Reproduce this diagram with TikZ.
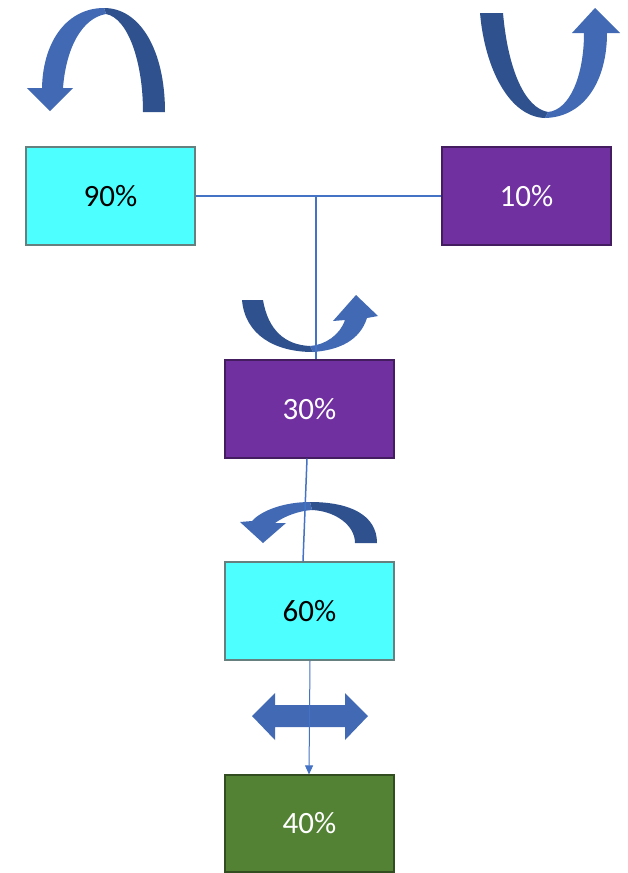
\documentclass[tikz,border=0pt]{standalone}
\usepackage{fontspec}
\setmainfont{Carlito}
\usetikzlibrary{arrows.meta}
\definecolor{cyanbox}{HTML}{4DFFFF}
\definecolor{purplebox}{HTML}{7030A0}
\definecolor{greenbox}{HTML}{548235}
\definecolor{linkblue}{HTML}{4472C4}
\definecolor{arrowlight}{HTML}{4169B4}
\definecolor{arrowdark}{HTML}{2F528F}
\tikzset{
  box/.style={rectangle, minimum width=169pt, minimum height=98pt, inner sep=0pt,
    line width=1.2pt, font=\fontsize{31}{35}\selectfont},
  cyanstyle/.style={box, fill=cyanbox, draw=gray!80!teal, text=black},
  purplestyle/.style={box, fill=purplebox, draw=purplebox!60!black, text=white},
  greenstyle/.style={box, fill=greenbox, draw=greenbox!60!black, text=white},
  link/.style={draw=linkblue, line width=1.5pt},
  lightpart/.style={fill=arrowlight, draw=none},
  darkpart/.style={fill=arrowdark, draw=none}
}
\begin{document}
\begin{tikzpicture}[x=1pt, y=-1pt]
\useasboundingbox (0,0) rectangle (628,873);
\fill[white] (0,0) rectangle (628,873);

% boxes
\node[cyanstyle] (b90) at (110.5,196) {90\%};
\node[purplestyle] (b10) at (526.5,196) {10\%};
\node[purplestyle] (b30) at (309.5,409) {30\%};
\node[cyanstyle] (b60) at (309.5,611) {60\%};
\node[greenstyle, minimum height=97pt] (b40) at (309.5,823.5) {40\%};

% curved arrow A (top left)
\path[darkpart] (104,8) .. controls (140,8) and (165,50) .. (165,112) -- (143,112)
  .. controls (143,62) and (128,18) .. (106,14) -- cycle;
\path[lightpart] (104,8) .. controls (68,8) and (43,40) .. (42,88) -- (27,88) -- (50,111)
  -- (73,88) -- (63,88) .. controls (66,48) and (82,18) .. (106,14) -- cycle;

% curved arrow B (top right)
\path[darkpart] (480,13) -- (503,13) .. controls (508,70) and (525,108) .. (548,112)
  -- (545,118) .. controls (510,117) and (485,70) .. (480,13) -- cycle;
\path[lightpart] (545,118) .. controls (585,117) and (607,80) .. (607,33) -- (620,33)
  -- (595,8) -- (572,33) -- (584,33) .. controls (584,75) and (570,110) .. (548,112) -- cycle;

% curved arrow C (above 30%)
\path[darkpart] (242,300) -- (263,300) .. controls (268,330) and (285,345) .. (310,346)
  -- (313,352) .. controls (275,352) and (245,335) .. (242,300) -- cycle;
\path[lightpart] (313,352) .. controls (340,350) and (360,340) .. (367,318) -- (378,316)
  -- (356,295) -- (333,321) -- (345,320) .. controls (340,335) and (325,345) .. (310,346) -- cycle;

% curved arrow D (above 60%)
\path[darkpart] (310,502) .. controls (350,502) and (377,515) .. (377,543) -- (355,543)
  .. controls (355,525) and (335,511) .. (312,510) -- cycle;
\path[lightpart] (310,502) .. controls (285,502) and (262,510) .. (252,521) -- (240,522)
  -- (263,543) -- (286,523) -- (275,523) .. controls (285,516) and (298,511) .. (312,510) -- cycle;

% double arrow E
\path[lightpart] (252,716) -- (275,693) -- (275,705) -- (345,705) -- (345,693) -- (368,716)
  -- (345,740) -- (345,727) -- (275,727) -- (275,740) -- cycle;

% connectors
\coordinate (j) at (316,197);
\draw[link] (b90.east) -- (b10.west);
\draw[link] (j) -- (j |- b30.north);
\draw[link] ([xshift=-2.5pt]b30.south) -- ([xshift=-6.5pt]b60.north);
\draw[link, line width=1pt, -{Triangle[length=9pt, width=8pt]}] ([xshift=0.5pt]b60.south) -- ([xshift=-0.5pt]b40.north);
\end{tikzpicture}
\end{document}
